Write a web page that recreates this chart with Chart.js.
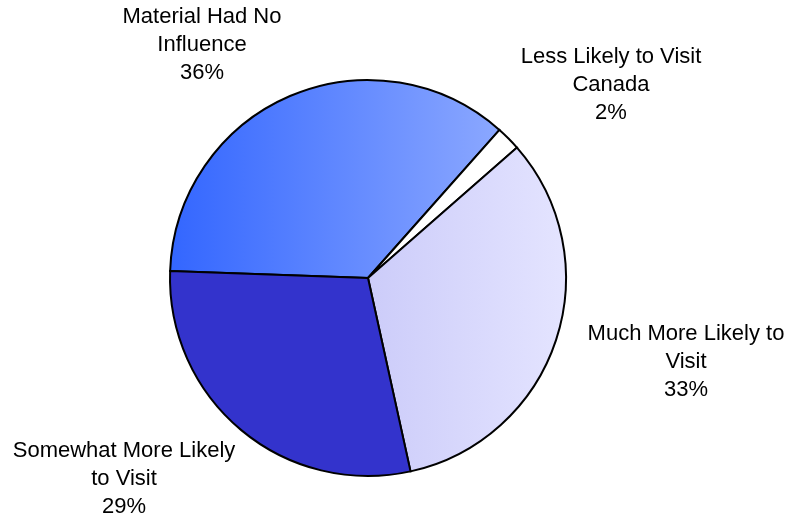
<!DOCTYPE html>
<html>
<head>
<meta charset="utf-8">
<script src="https://cdn.jsdelivr.net/npm/chart.js@4/dist/chart.umd.min.js"></script>
<style>
  html, body { margin: 0; padding: 0; background: #fff; }
  #wrap { width: 787px; height: 520px; }
</style>
</head>
<body>
<div id="wrap"><canvas id="visitPie"></canvas></div>
<script>
// survey answers, clockwise from the left edge of the pie
const categories = [
  "Material Had No Influence",
  "Less Likely to Visit Canada",
  "Much More Likely to Visit",
  "Somewhat More Likely to Visit"
];
const shares = [36, 2, 33, 29];
const labelLines = [
  ["Material Had No", "Influence"],
  ["Less Likely to Visit", "Canada"],
  ["Much More Likely to", "Visit"],
  ["Somewhat More Likely", "to Visit"]
];

// where each label block sits, measured from the pie centre
const labelOffsets = [
  [-166, -233],
  [243, -193],
  [318, 84],
  [-244, 201]
];

function sliceFill(context) {
  const chart = context.chart;
  const area = chart.chartArea;
  if (!area) return "#3366ff";
  const ctx = chart.ctx;
  const i = context.dataIndex;
  if (i === 0) {
    const g = ctx.createLinearGradient(area.left, 0, area.right, 0);
    g.addColorStop(0, "#3366ff");
    g.addColorStop(1, "#9db5ff");
    return g;
  }
  if (i === 2) {
    const g = ctx.createLinearGradient(area.left, 0, area.right, 0);
    g.addColorStop(0, "#b4b4f4");
    g.addColorStop(1, "#e4e4ff");
    return g;
  }
  if (i === 1) return "#ffffff";
  return "#3333cc";
}

const sliceLabels = {
  id: "sliceLabels",
  afterDatasetsDraw(chart) {
    const ctx = chart.ctx;
    const arcs = chart.getDatasetMeta(0).data;
    ctx.save();
    ctx.font = "22px Arial, 'Liberation Sans', sans-serif";
    ctx.fillStyle = "#000";
    ctx.textAlign = "center";
    ctx.textBaseline = "middle";
    arcs.forEach(function (arc, i) {
      const lines = labelLines[i].concat([shares[i] + "%"]);
      const cx = arc.x + labelOffsets[i][0];
      const cy = arc.y + labelOffsets[i][1];
      const lh = 28;
      lines.forEach(function (t, k) {
        ctx.fillText(t, cx, cy + (k - (lines.length - 1) / 2) * lh);
      });
    });
    ctx.restore();
  }
};

const visitPie = new Chart(document.getElementById("visitPie").getContext("2d"), {
  type: "pie",
  data: {
    labels: categories,
    datasets: [
      {
        data: shares,
        backgroundColor: sliceFill,
        borderColor: "#000",
        borderWidth: 2,
        borderJoinStyle: "miter"
      }
    ]
  },
  options: {
    responsive: true,
    maintainAspectRatio: false,
    animation: false,
    rotation: 272,
    radius: 198,
    layout: {
      padding: { left: 170, right: 221, top: 80, bottom: 44 }
    },
    plugins: {
      legend: { display: false },
      tooltip: { enabled: false }
    }
  },
  plugins: [sliceLabels]
});
</script>
</body>
</html>
